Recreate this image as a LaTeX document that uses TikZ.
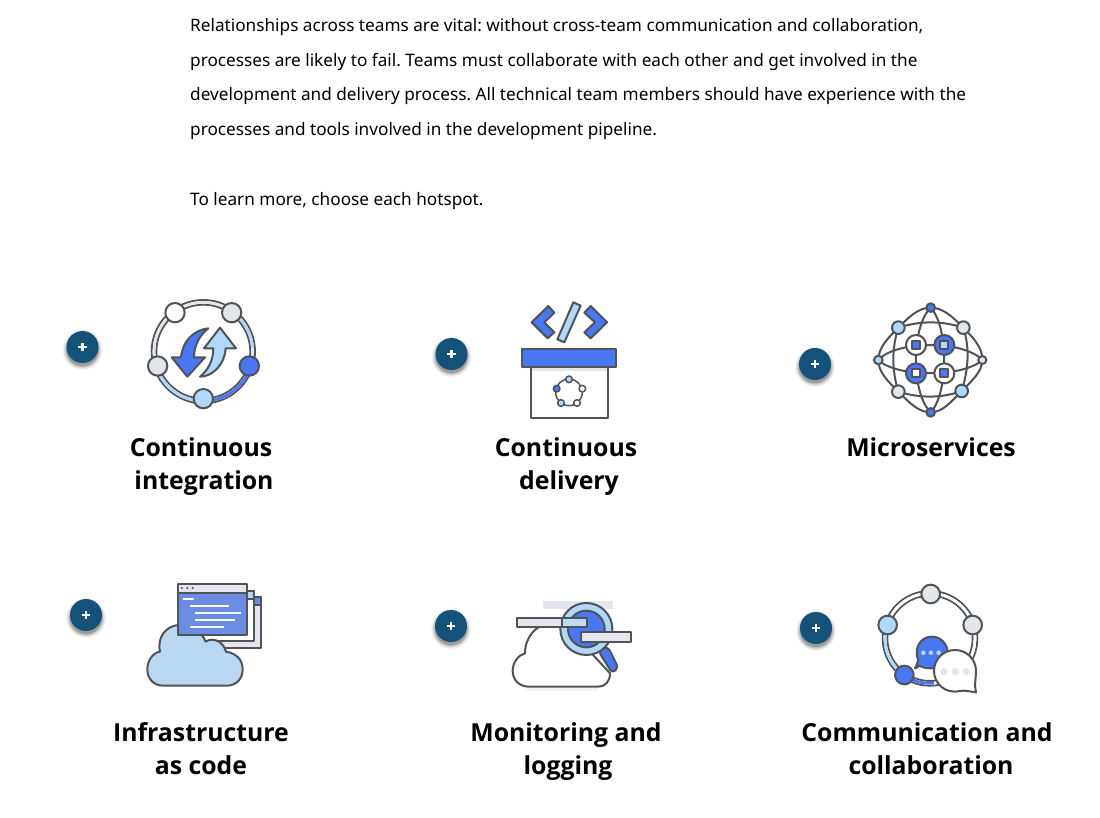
\documentclass[tikz,border=0pt]{standalone}
\usepackage{fontspec}
\setmainfont{Noto Sans}
\newfontfamily\headfont{Open Sans}
\frenchspacing
\definecolor{ink}{HTML}{505357}
\definecolor{cblue}{HTML}{4A78F5}
\definecolor{clight}{HTML}{AFD8FB}
\definecolor{cgray}{HTML}{E3E6EB}
\definecolor{btn}{HTML}{14527A}
\definecolor{winblue}{HTML}{6A8DE3}
\definecolor{cloudblue}{HTML}{BBD8F2}
\tikzset{
  body/.style={anchor=base west,inner sep=0pt,font=\fontsize{17.2}{20}\selectfont,text=black},
  head/.style={anchor=base,inner sep=0pt,font=\headfont\bfseries\fontsize{24.8}{30}\selectfont,text=black},
  ol/.style={draw=ink,line width=2pt,line join=round},
  thin ol/.style={draw=ink,line width=1.5pt,line join=round},
  ringline/.style={draw=ink,line width=1.9pt},
  zoomed/.style={x=0.33333pt,y=-0.33333pt,shift={(#1)}}
}
\newcommand{\hotspot}[3]{%
  \foreach \r/\o in {20/.04,19/.06,18/.08,17/.12,16/.16}
    \fill[black,opacity=\o] (#1,#2+3) circle[radius=\r];
  \node[circle,fill=btn,minimum size=32pt,inner sep=0pt] (#3) at (#1,#2) {};
  \draw[white,line width=2.3pt] (#1-4.4,#2) -- (#1+4.4,#2) (#1,#2-4.4) -- (#1,#2+4.4);
}
\begin{document}
\begin{tikzpicture}[x=1pt,y=-1pt]
\useasboundingbox (0,0) rectangle (1100,818);
\fill[white] (0,0) rectangle (1100,818);

\node[body] (t1) at (190,32) {Relationships across teams are vital: without cross-team communication and collaboration,};
\node[body] (t2) at (190,67) {processes are likely to fail. Teams must collaborate with each other and get involved in the};
\node[body] (t3) at (190,101) {development and delivery process. All technical team members should have experience with the};
\node[body] (t4) at (190,136) {processes and tools involved in the development pipeline.};
\node[body] (t5) at (190,206) {To learn more, choose each hotspot.};

\hotspot{82.5}{347}{h1}
\hotspot{451.5}{354}{h2}
\hotspot{815}{364}{h3}
\hotspot{86}{615}{h4}
\hotspot{451}{626}{h5}
\hotspot{816}{628}{h6}

\node[head] (l1a) at (201,456) {Continuous};
\node[head] (l1b) at (204,489) {integration};
\node[head] (l2a) at (566,456) {Continuous};
\node[head] (l2b) at (569,489) {delivery};
\node[head] (l3a) at (931,456) {Microservices};
\node[head] (l4a) at (201,741) {Infrastructure};
\node[head] (l4b) at (201,774) {as code};
\node[head] (l5a) at (566,741) {Monitoring and};
\node[head] (l5b) at (568,774) {logging};
\node[head] (l6a) at (927,741) {Communication and};
\node[head] (l6b) at (931,774) {collaboration};

% Icon 1: continuous integration
\begin{scope}[zoomed={50pt,-280pt}]
  \draw[ringline] (460,215) circle[radius=141];
  \draw[ringline] (460,215) circle[radius=155];
  \draw[cgray,line width=2.8pt] (460,215) circle[radius=148];
  \draw[clight,line width=2.8pt] (460,215) ++(-62:148) arc[start angle=-62,end angle=-5,radius=148];
  \draw[cblue,line width=2.8pt] (460,215) ++(25:148) arc[start angle=25,end angle=88,radius=148];
  \draw[clight,line width=2.8pt] (460,215) ++(90:148) arc[start angle=90,end angle=155,radius=148];
  \draw[ol,fill=white] (375,98) circle[radius=29];
  \draw[ol,fill=cgray] (545,98) circle[radius=29];
  \draw[ol,fill=cblue] (598,258) circle[radius=29];
  \draw[ol,fill=clight] (460,356) circle[radius=29];
  \draw[ol,fill=cgray] (323,258) circle[radius=29];
  \draw[ol,fill=cblue] (475,145) .. controls (430,150) and (397,185) .. (393,232) -- (365,232) -- (412,290) -- (465,232) -- (432,232) .. controls (432,195) and (450,165) .. (475,145) -- cycle;
  \draw[ol,fill=clight] (450,290) .. controls (490,290) and (525,250) .. (527,205) -- (558,205) -- (510,143) -- (462,205) -- (490,205) .. controls (490,240) and (475,270) .. (450,290) -- cycle;
\end{scope}

% Icon 2: continuous delivery
\begin{scope}[zoomed={425pt,-285pt}]
  \draw[ol,fill=cblue] (320,112) -- (370,63) -- (388,83) -- (358,112) -- (388,142) -- (368,160) -- cycle;
  \draw[ol,fill=cblue] (546,112) -- (497,63) -- (478,83) -- (510,112) -- (478,142) -- (497,160) -- cycle;
  \draw[ol,fill=clight] (445,52) -- (467,62) -- (418,172) -- (397,163) -- cycle;
  \fill[cgray] (318,245) rectangle (548,257);
  \draw[ol] (318,245) rectangle (548,400);
  \draw[ol,fill=cblue] (292,193) rectangle (573,245);
  \draw[thin ol] (432,322) circle[radius=40];
  \draw[thin ol,fill=clight] (432,283) circle[radius=10];
  \draw[thin ol,fill=white] (472,311) circle[radius=10];
  \draw[thin ol,fill=white] (456,354) circle[radius=10];
  \draw[thin ol,fill=clight] (408,354) circle[radius=10];
  \draw[thin ol,fill=cblue] (395,311) circle[radius=10];
\end{scope}

% Icon 3: microservices
\begin{scope}[zoomed={790pt,-290pt}]
  \draw[ol] plot[smooth cycle,tension=.7] coordinates {(422,53) (520,113) (577,210) (515,303) (422,367) (325,305) (265,210) (325,113)};
  \draw[ol] (325,113) .. controls (390,92) and (455,92) .. (520,113);
  \draw[ol] (325,305) .. controls (390,325) and (455,325) .. (515,303);
  \draw[ol] (325,113) .. controls (305,175) and (305,240) .. (325,305);
  \draw[ol] (520,113) .. controls (540,175) and (535,240) .. (515,303);
  \draw[ol] (265,210) .. controls (320,150) and (520,150) .. (577,210);
  \draw[ol] (265,210) .. controls (320,263) and (520,263) .. (577,210);
  \draw[ol] (422,53) .. controls (363,110) and (363,310) .. (422,367);
  \draw[ol] (422,53) .. controls (476,110) and (476,310) .. (422,367);
  \draw[ol,fill=cblue] (422,53) circle[radius=13];
  \draw[ol,fill=cblue] (422,367) circle[radius=13];
  \draw[ol,fill=clight] (265,210) circle[radius=13];
  \draw[ol,fill=cgray] (577,210) circle[radius=12];
  \draw[ol,fill=clight] (325,113) circle[radius=19];
  \draw[ol,fill=cgray] (520,113) circle[radius=19];
  \draw[ol,fill=cgray] (325,305) circle[radius=19];
  \draw[ol,fill=clight] (515,303) circle[radius=19];
  \draw[ol,fill=white] (378,165) circle[radius=30];
  \draw[ol,fill=cblue] (463,165) circle[radius=30];
  \draw[ol,fill=cblue] (378,250) circle[radius=30];
  \draw[ol,fill=white] (463,250) circle[radius=30];
  \draw[ol,fill=cblue] (366,153) rectangle (390,177);
  \draw[ol,fill=clight] (451,153) rectangle (475,177);
  \draw[ol,fill=white] (366,238) rectangle (390,262);
  \draw[ol,fill=cblue] (451,238) rectangle (475,262);
\end{scope}

% Icon 4: infrastructure as code
\begin{scope}[zoomed={60pt,-570pt}]
  \draw[ol,fill=cgray] (400,82) rectangle (603,235);
  \draw[ol,fill=winblue] (400,82) rectangle (603,105);
  \draw[ol,fill=white] (375,62) rectangle (582,213);
  \draw[ol,fill=clight] (375,62) rectangle (582,87);
  \draw[ol,fill=cloudblue] (310,347) .. controls (280,347) and (262,325) .. (262,298)
     .. controls (262,270) and (280,248) .. (300,245)
     .. controls (290,200) and (320,165) .. (360,165)
     .. controls (395,165) and (425,185) .. (437,215)
     .. controls (460,200) and (490,215) .. (498,245)
     .. controls (530,250) and (548,270) .. (548,298)
     .. controls (548,325) and (530,347) .. (500,347) -- cycle;
  \draw[ol,fill=cgray] (353,43) rectangle (562,68);
  \draw[ol,fill=winblue] (353,68) rectangle (562,195);
  \fill[ink] (366,54) circle[radius=3.5] (382,54) circle[radius=3.5] (398,54) circle[radius=3.5];
  \draw[white,line width=1.9pt] (370,87) -- (402,87) (390,108) -- (507,108) (406,129) -- (542,129) (406,151) -- (525,151) (389,172) -- (492,172);
\end{scope}

% Icon 5: monitoring and logging
\begin{scope}[zoomed={425pt,-585pt}]
  \fill[cgray] (355,47) rectangle (563,72);
  \fill[cgray!50!white] (300,310) rectangle (520,318);
  \draw[ol,fill=white] (312,305) .. controls (283,305) and (263,285) .. (263,258)
     .. controls (263,232) and (280,210) .. (300,205)
     .. controls (300,155) and (335,117) .. (375,117)
     .. controls (400,117) and (420,125) .. (440,140)
     -- (555,265) .. controls (555,290) and (540,305) .. (520,305) -- cycle;
  \draw[ol,fill=cblue,rounded corners=4pt] (520,198) -- (548,184) -- (580,248) -- (562,265) -- cycle;
  \draw[ol,fill=clight] (484,132) circle[radius=78];
  \draw[ol,fill=cblue] (484,132) circle[radius=55];
  \draw[ol,fill=cgray] (275,98) rectangle (410,125);
  \draw[ol,fill=clight!70!cgray] (410,98) rectangle (485,125);
  \draw[ol,fill=cgray] (467,142) rectangle (617,170);
\end{scope}

% Icon 6: communication and collaboration
\begin{scope}[zoomed={790pt,-575pt}]
  \draw[ringline] (420,190) circle[radius=142];
  \draw[ringline] (420,190) circle[radius=128];
  \draw[white,line width=2.8pt] (420,190) circle[radius=135];
  \draw[clight,line width=2.8pt] (420,190) ++(135:135) arc[start angle=135,end angle=200,radius=135];
  \draw[cblue,line width=2.8pt] (420,190) ++(85:135) arc[start angle=85,end angle=135,radius=135];
  \draw[ol,fill=cgray] (422,57) circle[radius=28];
  \draw[ol,fill=cgray] (548,150) circle[radius=28];
  \draw[ol,fill=clight] (293,150) circle[radius=28];
  \draw[ol,fill=cblue] (343,300) circle[radius=28];
  \draw[ol,fill=cblue] (388,272) .. controls (383,276) and (380,279) .. (375,280) .. controls (380,270) and (384,262) .. (384,255) .. controls (370,215) and (395,185) .. (425,185) .. controls (455,185) and (473,210) .. (473,232) .. controls (473,258) and (450,280) .. (425,280) .. controls (410,280) and (398,278) .. (388,272) -- cycle;
  \fill[clight] (400,233) circle[radius=7] (423,233) circle[radius=7] (446,233) circle[radius=7];
  \draw[ol,fill=white] (495,225) .. controls (530,225) and (558,253) .. (558,288) .. controls (558,310) and (552,330) .. (558,352) .. controls (540,350) and (525,345) .. (510,348) .. controls (465,358) and (432,325) .. (432,288) .. controls (432,253) and (460,225) .. (495,225) -- cycle;
  \fill[cgray] (462,290) circle[radius=11] (496,290) circle[radius=11] (529,290) circle[radius=11];
\end{scope}
\end{tikzpicture}
\end{document}
